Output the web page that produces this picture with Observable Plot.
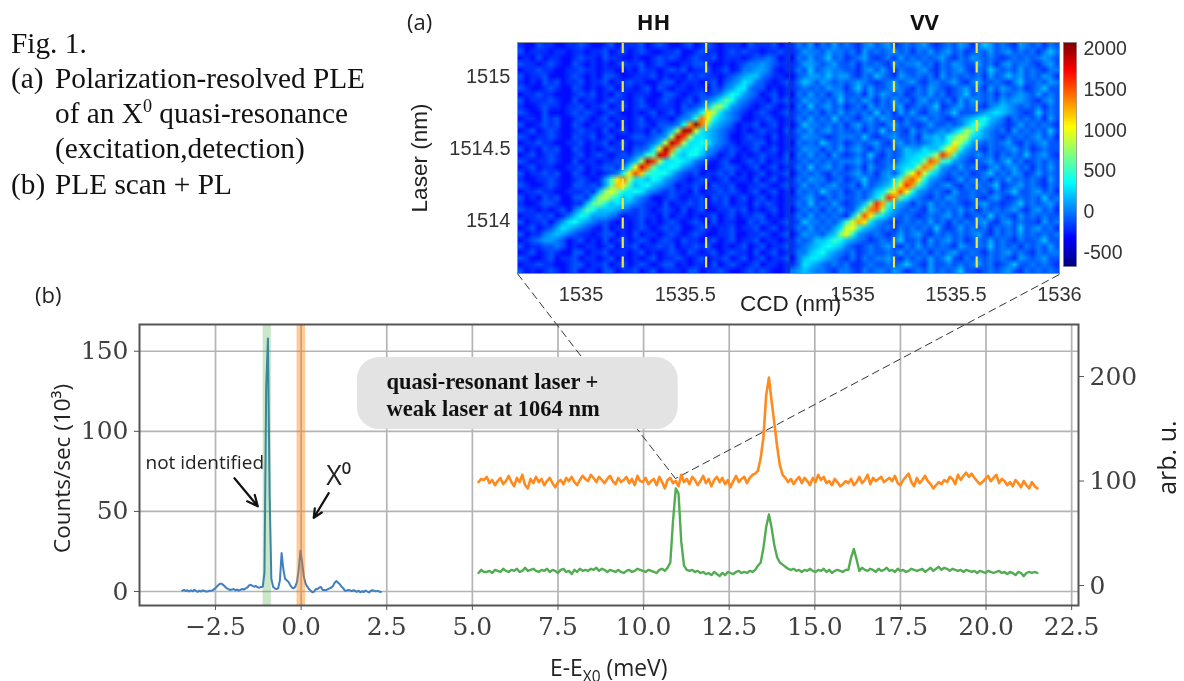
<!DOCTYPE html>
<html><head><meta charset="utf-8">
<script src="https://cdn.jsdelivr.net/npm/d3@7"></script>
<script src="https://cdn.jsdelivr.net/npm/@observablehq/plot@0.6"></script>
<style>
html,body{margin:0;padding:0;background:#fff;overflow:hidden}
#page{position:relative;width:1184px;height:681px;overflow:hidden;filter:blur(.4px)}
#page>svg,#page>.lay{position:absolute}
.serif{position:absolute;font-family:"Liberation Serif",serif;font-size:29.3px;color:#111;white-space:nowrap;line-height:30px}
.sans{position:absolute;font-family:"Open Sans",sans-serif;color:#222;white-space:nowrap}
sup{font-size:62%;line-height:0}
sub{font-size:68%;line-height:0}
</style></head><body><div id="page"></div>
<script>
// ---------- (a) heat maps: one letter per cell, a=-300 ... d=0 ... x=2000, steps of 100 (counts)
const hhRows = [
"baacb baabb cbaab cabbb cabcb aabca bcbab bbacb bbcab",
"cabbb abbab babbc abcab cbaab bcaab cbbab cbcbb abbcb",
"abaca bbaab cbbac bbaab aabcb cbabc bbcab bbabc cdcab",
"cbbab cbaac babab abcbb cabcb aabbc cbaab abcdd edcbb",
"abbcb baabb cbbab baaba cbbab cbcab bcabc abdde edbab",
"cabbc aaabc babac cbaab bbcab abacb cbbab cdeff dcbba",
"babac bcabb cabbc abbcb baabc cabbb abcac degfd cbabc",
"cbaab cbaac babab cabba bcacb abbab bacbd eggdc cabab",
"abbcb baaab cbcab acbab bbaac cbabb cbcdf hgedc abcab",
"cabbb cbaac abbab cbbab caabc babca cdegj hedcb bacbc",
"baabc bbabb cabbc abcab cbabb bacbc dfjlh edcba bcbab",
"cbaac aaabc bcbab cbaab abcab cacde holge dcbab cbabc",
"abbac bcaab cbabc abbab cabbb acdei rnhfe dcaab bcbab",
"caabc bcaac babbb cabab cbacc cdhqx rjfed cabbc abcab",
"abcab cbaab cbbac abcab bacbd flwwm gfedc babab cbbac",
"cbabb cbaac bbcab caabc cbcde lwtlg gfedc aabcb bacab",
"abbcb baabb cabbc abcab bcdfm wtlgg hgedc babbc cabab",
"cabac bcaac babab cbbac cdgox rjggh gedcb cbabc abcab",
"abcab cbaab cabcb abcbd eijwu kgfhh fdcab cabab cbbac",
"cbabb cbaac abbab bcbdf lwtlg ghgfd cbabc aabcb cabbc",
"abcab baabb cabbc cbdgn vrjgg hgedc baabc cbabc abcab",
"cabbc bcaac babab cdhos pihhh fdcbc abbcb cabab cabbc",
"baabb cbaab cbabe iorlg gfhge dcbab cbabc abbac abcab",
"cbaab cbaac cbcbe jpoif ghfed cabbc bacbb caabb cbabc",
"abbcb baabb bcbfk nkhgh gedcb cbbac abbcb cbabc abcab",
"cabac bcaac cbfkm jhfge dcaab cbabb cacbc abcab cabab",
"baabc cbaab bfjkh fgfed cbbac abbcb cabbc abbac bcbab",
"cbbab abcad fjhff fedcb cbabc bacab caabb cbcab abcab",
"abbcb cabdf hgeee dcabb cbbac abbab abcab cabbc cabab",
"cabbc acegh fedcc babab cabab cbabc bacab baacb cbabc",
"abcab cegfe dcbac abbab cbabc bcaab cbabb cabbc abcab",
"cabbd efedc bbabc cabac abbab cbabc baabb caabb cbabc",
"abcde edcab cabac abcab cbabc bacbb abcab cabbc abbab",
"cabbc cdcab abbab cabbc abbcb cabbc bcaab abcab cabbc",
"abcab cbaac cabbc abbab cabab cbacb abcab cbbac abcab",
"cbaab cabbc abbab cabab abcab bcbab cabbc abcab cabbc",
"abbcb baabc cabbc abcab cbabc cabab bacab cbabc abbab",
"cabab cbabc abbac cabbc abcab bbacc abbcb aabcb cbaab"];
const vvRows = [
"bdceb dcecd cbdec debcd cdecb cdced bdfec dcbed cdbdc",
"bcedd ceddc dbecd cdecd bdcec decdb cdcec decdc dbdfd",
"adcec dfcdb cdecb cdbec dcdcd ecbdc edcdc bcdcd cdedc",
"bceed cdecc dbdcd cbecd decdb dcedc cecdb decdd cbdec",
"bdcfc deddc cbdec ecbdc cdecb dcdec bdcfd cdcec dcbdd",
"acdee dfdee cbdcf dcbed cdcdb ecdcd cdbec dfdec dcedb",
"bdfec edcdc dedcb cdecd ecbdd cdecb deccd cbdfc cdced",
"bcdcd ceddb dfcec cdedc bdced cbcde cdbec edcdb cdfcc",
"adcec dbdec cdbec edcdb cdcec dbcdf cdcdb dcded cecdc",
"bcedd cdcfc dcedb dcecd bdecd cdbec edcdc edeed cbdec",
"adcfc decdb cdbec dcdeb cdcdf bcdec dcbde fedcd cdbdc",
"bcdcd bdcec dcdcf cdbec ecbdd cdfcc cdefg fedcb cfcdc",
"bdcec dcfcd cbdec edcbd cdecd cbcde fghfe dbdcd cdbec",
"acfdd cdcdb decdc bdecd cbcec cdcdf hjged cbcec dcdcb",
"bdcec decdc cdbdc fcdcb ecdcd edfhl jgedc dbecd cdcfc",
"bcedd cbcdd dcfcb cdecc dbeef ehjml gfedc bdcdc decdb",
"adcdc fdcdb cdcde cbdec dcdef fhnlh edcdc decbd cdecc",
"bcedd bdcec decbd cdcdf eegff inphe dcbdc cdecd bcdcc",
"adcec dbecb cdcfc bdcdf fggil tqied cecdb dcdcf cdecb",
"bcdcd cdcdd decdb cdcef ggksq ihedc bcdec dfcdb cdcdc",
"bdcfc decdb cdbec cdefg glrpi edcec dcbde cdecd bdcec",
"acdcd cbdcc decdb decfj nsmhf dcdcd bcdfc dcedb cecdc",
"bdced dbcdb cdfcc degjq sohed cbcec dcdbd cecdc dcbec",
"bcecd cdecc dbecd efhot qifdc decbd cdcdf bcdec dcbdc",
"adcdc fdcdb cdcdf gkosn hedcd cbecc dcdbd cdfcc decdb",
"bcdec bdcdc cdceg jtrjg edcbd cedcc dcbde cbcdc dcfcd",
"bdcfc dcecb cdfkt qifed bdcec dcdcb cdecc bcdfc dcdec",
"acdcd bdcec cfkrs lgedc dcbed cdcec dbdcd cdecb decdb",
"bdcec dcdcb flsoi gedcd cbcdc decdb cdcfc dcbec dcdcc",
"bcfdd cdcei mqoge dcbcd cdcec dbdcd cdecb decdc cbecd",
"bdcec dcegm nifed cdbdc dcdcf cbcec dcdbd cdcfc decdb",
"acedd cefkn iedcd cbcec decbd cdcdc decbd cdcec dcdcd",
"bdcdf fgihf edcbc dcdfc cdbec decdb cdcec dcbdc cdfcc",
"bcdef ghgfd cbcdc decbd cecdc dcbed cdcfc dcdbd cdcec",
"bddfg hfedc dbcdc cdcec dcdbd cdecc dcbdc decdc bdcdd",
"adfgg fedcb dbdcd decbd cdcec dfcbd cdcdc dcbed cdecc",
"bdgfe dcdcd bbcdc cdcdf dcbec cdcdc decdb cdfcc dcdcb",
"defed dcbdd cbdcd dcedb cdcec dcdfc cbcdc decbd cdcdc"];
const ccdDomain = [1534.695, 1536];
const laserDomain = [1513.63, 1515.24];
const ccdTicks = [1535, 1535.5];
const ccdTicksVV = [1535, 1535.5, 1536];
const laserTicks = [1514, 1514.5, 1515];
const windowLines = [1535.2, 1535.6];
const colorTicks = [-500, 0, 500, 1000, 1500, 2000];
const colorExtent = [-672, 2077];
const jetColors = ["#00007f","#0000ff","#00ffff","#ffff00","#ff0000","#7f0000"];
const jetStops = [0, .125, .375, .625, .875, 1];

// ---------- (b) spectra
const plStart = -3.47, plStep = 0.05;
const plCounts = [.5,1,.3,.8,0,.7,.2,1,.4,-.2,.5,0,.7,.3,-.1,.2,.5,.4,1,1.8,
2.8,4,4.8,4.8,4,3,2,1.5,.9,1.3,
1.5,.8,1.2,.5,1,1.6,1.2,1.9,2.5,3.8,4.2,3.5,3,3.4,2.6,2.4,2.8,
3,12,128,158,60,8,3,2,1.5,2,7,24,14,8,7,6,4,2.5,2,3,6,14,25.5,18,9,5,3,1.5,.5,-.5,0,1.5,1.5,2.5,2.8,1,1,.8,1.5,2,2.5,3.5,5.5,6.5,5.5,4.5,3,2,.5,.5,
1,.6,.2,.8,.3,-.2,.5,-.5,.2,-.3,.6,0,-.6,.3,.8,.5,.1,.4,0,-.3];
const pleStart = 5.18, pleStep = 0.08;
const pleOrange = [99,102,101,104,98,101,96,100,103,97,100,105,99,95,103,99,106,96,93,102,
98,104,99,102,96,100,103,98,94,99,101,97,103,100,104,99,96,101,105,102,
100,106,103,99,104,101,98,102,105,100,97,103,99,101,104,98,102,96,105,100,
99,103,97,100,102,96,104,99,93,101,103,98,100,95,106,99,102,97,104,101,
96,100,105,98,102,95,101,104,99,103,97,101,94,100,105,99,102,104,98,103,
106,107,110,122,142,182,199,176,155,133,115,106,103,
99,102,97,101,104,98,103,100,96,103,99,106,101,104,98,100,96,102,99,95,
97,100,98,102,96,99,104,98,101,106,97,103,100,102,104,99,101,103,100,105,
98,96,101,104,107,99,95,103,98,101,105,100,97,93,96,99,97,101,99,104,
102,97,106,101,105,108,104,107,103,100,97,99,102,105,100,103,106,98,102,100,
96,99,95,101,98,94,100,96,93,99,95,93];
const pleGreen = [12,15,13,13,14,12,15,14,13,16,14,13,15,14,16,13,14,17,14,15,
16,14,13,15,14,16,13,15,14,12,15,16,13,14,11,15,13,16,14,15,
14,16,15,17,14,16,15,13,15,14,13,15,13,12,14,15,13,14,16,15,
14,13,15,14,13,12,15,16,14,
17,22,62,93,88,42,19,15,
14,15,13,14,12,13,11,12,10,13,11,9,12,10,13,12,11,13,14,12,13,12,14,13,
15,19,22,36,56,68,55,38,27,22,20,18,16,
15,16,14,15,13,15,14,16,14,13,15,14,16,13,15,12,14,15,14,13,15,
15,27,35,25,14,
17,15,14,16,15,13,16,14,15,17,14,15,13,16,14,15,13,14,16,15,
14,15,16,13,15,17,14,16,18,15,17,16,14,16,15,14,15,13,15,14,
13,14,12,14,13,12,14,13,12,13,14,12,13,11,13,12,10,13,12,9,12,13,12,13,12];
const energyTicks = [-2.5,0,2.5,5,7.5,10,12.5,15,17.5,20,22.5];
const countTicks = [0,50,100,150];
const arbTicks = [0,100,200];
const energyDomain = [-4.72, 22.7];
const countDomain = [-8.74, 166.7];
const arbDomain = [-19.1, 249.8];
const bands = [{x1:-1.11,x2:-.87,c:"#2ca02c",o:.25},{x1:-.12,x2:.13,c:"#ff7f0e",o:.42}];
const zoomLinks = [{x1:6.315,y1:198.5,x2:10.93,y2:70.5},{x1:22.14,y1:197.9,x2:10.93,y2:70.5}];
const calloutBox = [{x1:1.644,x2:11.01,y1:101.1,y2:146.1}];
const calloutText = [{x:2.49,y:131.1,t:"quasi-resonant laser +"},{x:2.49,y:114.2,t:"weak laser at 1064 nm"}];
const arrows = [{x1:-1.947,y1:70.7,x2:-1.266,y2:53.2},{x1:.806,y1:61.4,x2:.368,y2:46}];

// ---------- helpers
const page = document.getElementById("page");
const decode = rows => rows.flatMap(r => Array.from(r.replace(/ /g,"").padEnd(45,"c").slice(0,45), c => (c.charCodeAt(0)-100)*100));
const colorScale = {type:"linear", domain: jetStops.map(s => colorExtent[0]+s*(colorExtent[1]-colorExtent[0])), range: jetColors, clamp:true};
const sansH = "'Liberation Sans',Arial,sans-serif";
function place(svg,left,top){svg.style.left=left+"px";svg.style.top=top+"px";page.appendChild(svg);}
function heat(rows,title,xTicks,withY,width,ml,mr){
  const marks=[
    Plot.raster(decode(rows),{width:45,height:rows.length,x1:ccdDomain[0],x2:ccdDomain[1],y1:laserDomain[1],y2:laserDomain[0],fill:d=>d,imageRendering:"auto"}),
    Plot.ruleX(windowLines,{stroke:"#f2e63d",strokeWidth:2.2,strokeDasharray:"11 8.5"}),
    Plot.frame({stroke:"#8a8f98",strokeWidth:1}),
    Plot.axisX(xTicks,{anchor:"bottom",tickSize:0,tickPadding:13,fontSize:20,fill:"#333",tickFormat:d=>String(d),label:null,fontFamily:sansH}),
    Plot.text([title],{frameAnchor:"top",dy:-28,fontSize:22,fontWeight:"bold",fill:"#111",fontFamily:"'Open Sans',sans-serif"})
  ];
  if(withY) marks.push(
    Plot.axisY(laserTicks,{anchor:"left",tickSize:0,tickPadding:7,fontSize:20,fill:"#333",tickFormat:d=>String(d),label:null,fontFamily:sansH}),
    Plot.text(["Laser (nm)"],{frameAnchor:"left",textAnchor:"middle",dx:-98,rotate:-90,fontSize:22.5,fill:"#222",fontFamily:sansH})
  );
  else marks.push(Plot.ruleX([ccdDomain[0]],{stroke:"#1b3f7a",strokeWidth:1.5}));
  return Plot.plot({width,height:320,marginLeft:ml,marginRight:mr,marginTop:42,marginBottom:47,
    x:{domain:ccdDomain},y:{domain:laserDomain,axis:null},color:colorScale,
    style:{background:"transparent",overflow:"visible"},marks});
}
// panels
place(heat(hhRows,"HH",ccdTicks,true,272+110,110,0),407,0);
place(heat(vvRows,"VV",ccdTicksVV,false,270+40,0,40),789,0);
// colour bar
const barLevels = d3.range(colorExtent[1],colorExtent[0],-12);
place(Plot.plot({width:13+70,height:280,marginLeft:0,marginRight:70,marginTop:42,marginBottom:14,
  x:{domain:[0,1],axis:null},y:{domain:colorExtent},color:colorScale,
  style:{background:"transparent",overflow:"visible"},
  marks:[
    Plot.raster(barLevels,{width:1,height:barLevels.length,x1:0,x2:1,y1:colorExtent[1],y2:colorExtent[0],fill:d=>d,imageRendering:"auto"}),
    Plot.frame({stroke:"#777",strokeWidth:.6}),
    Plot.axisY(colorTicks,{anchor:"right",tickSize:0,tickPadding:7,fontSize:19.5,fill:"#333",tickFormat:d=>String(d),label:null,fontFamily:sansH})
  ]}),1063,0);

// HTML text
function addText(cls,left,top,html,extra){const d=document.createElement("div");d.className=cls;d.style.left=left+"px";d.style.top=top+"px";d.innerHTML=html;if(extra)Object.assign(d.style,extra);page.appendChild(d);return d;}
addText("serif",11,28,"Fig. 1.");
addText("serif",11,63,"(a)");addText("serif",55,63,"Polarization-resolved PLE");
addText("serif",55,98,"of an X<sup>0</sup> quasi-resonance");
addText("serif",55,133,"(excitation,detection)");
addText("serif",11,169,"(b)");addText("serif",55,169,"PLE scan + PL");
addText("sans",407,6,"(a)",{fontSize:"22px"});
addText("sans",35,279,"(b)",{fontSize:"22px"});
// CCD (nm) cut by the lower panel
addText("lay",740,291,"<span style=\"font-family:'Liberation Sans',Arial,sans-serif;font-size:22.5px;color:#222;line-height:26px;white-space:nowrap\">CCD (nm)</span>",{height:21,width:108,overflow:"hidden"});

// lower panel: left axis
const serifD="'DejaVu Serif',serif", sansO="'Open Sans',sans-serif";
const W=1184,H=681,ML=139,MR=106,MT=324,MB=76;
place(Plot.plot({width:W,height:H,marginLeft:ML,marginRight:MR,marginTop:MT,marginBottom:MB,
  x:{domain:energyDomain},y:{domain:countDomain},
  style:{background:"transparent",overflow:"visible"},
  marks:[
    Plot.gridX(energyTicks,{stroke:"#b4b4b4",strokeOpacity:1,strokeWidth:1.7}),
    Plot.gridY(countTicks,{stroke:"#b4b4b4",strokeOpacity:1,strokeWidth:1.7}),
    Plot.line(plCounts,{x:(d,i)=>plStart+i*plStep,y:d=>d,stroke:"#3f7fc0",strokeWidth:2}),
    Plot.rectY(bands,{x1:"x1",x2:"x2",y1:countDomain[0],y2:countDomain[1],fill:"c",fillOpacity:"o"}),
    Plot.link(zoomLinks,{x1:"x1",y1:"y1",x2:"x2",y2:"y2",stroke:"#333",strokeWidth:1,strokeDasharray:"8 4"}),
    Plot.rect(calloutBox,{x1:"x1",x2:"x2",y1:"y1",y2:"y2",fill:"#e3e3e3",rx:22}),
    Plot.text(calloutText,{x:"x",y:"y",text:"t",textAnchor:"start",fontSize:22.5,fontWeight:"bold",fill:"#111",fontFamily:"'Liberation Serif',serif"}),
    Plot.text(["not identified"],{x:-4.545,y:80.5,textAnchor:"start",fontSize:19,fill:"#222",fontFamily:sansO}),
    Plot.text(["X⁰"],{x:.73,y:72,textAnchor:"start",fontSize:27,fill:"#222",fontFamily:sansO}),
    Plot.arrow(arrows,{x1:"x1",y1:"y1",x2:"x2",y2:"y2",bend:0,stroke:"#111",strokeWidth:2.2,headLength:8,headAngle:50}),
    Plot.axisY(countTicks,{anchor:"left",tickSize:5,tickPadding:6,stroke:"#555",fontSize:25,fill:"#404040",fontFamily:serifD,label:null,tickFormat:d=>String(d)}),
    Plot.axisX(energyTicks,{anchor:"bottom",tickSize:5,tickPadding:7,stroke:"#555",fontSize:25,fill:"#404040",fontFamily:serifD,label:null,tickFormat:d=>d.toFixed(1).replace("-","−")}),
    Plot.text(["Counts/sec (10³)"],{x:-6.97,y:76.8,rotate:-90,fontSize:22.5,fill:"#222",fontFamily:sansO}),
    Plot.text(["arb. u."],{x:25.3,y:83.6,rotate:-90,fontSize:25,fill:"#222",fontFamily:sansO}),
    Plot.frame({stroke:"#555",strokeWidth:2})
  ]}),0,0);
// lower panel: right axis (arb. u.)
place(Plot.plot({width:W,height:H,marginLeft:ML,marginRight:MR,marginTop:MT,marginBottom:MB,
  x:{domain:energyDomain,axis:null},y:{domain:arbDomain},
  style:{background:"transparent",overflow:"visible"},
  marks:[
    Plot.line(pleGreen,{x:(d,i)=>pleStart+i*pleStep,y:d=>d,stroke:"#52ad52",strokeWidth:2.4}),
    Plot.line(pleOrange,{x:(d,i)=>pleStart+i*pleStep,y:d=>d,stroke:"#ff8a1e",strokeWidth:2.6}),
    Plot.axisY(arbTicks,{anchor:"right",tickSize:5,tickPadding:6,stroke:"#555",fontSize:25,fill:"#404040",fontFamily:serifD,label:null,tickFormat:d=>String(d)})
  ]}),0,0);
addText("sans",550,654,"E-E<sub>X0</sub> (meV)",{fontSize:"22.8px",lineHeight:"28px"});
</script></body></html>
